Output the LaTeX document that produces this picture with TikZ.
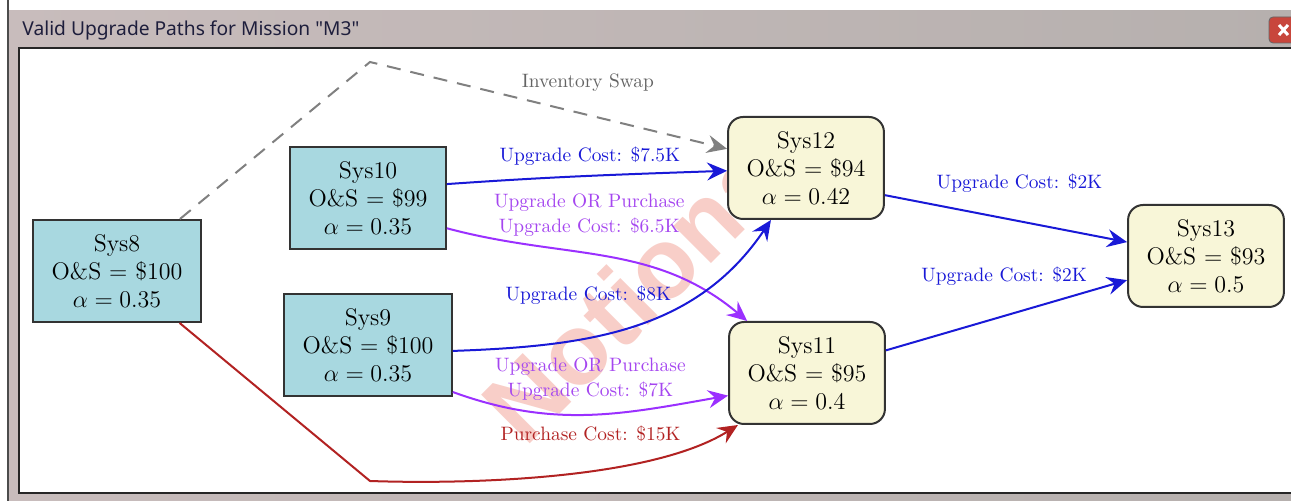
\documentclass[tikz,border=0pt]{standalone}
\usepackage{amssymb, amsmath}
\usepackage{fontspec}
\usepackage{tikz}
\usetikzlibrary{arrows.meta}
\newfontfamily\titlefont{Noto Sans}
\newfontfamily\markfont{Liberation Sans}

\definecolor{costblue}{RGB}{25,25,215}
\definecolor{orpurple}{RGB}{155,48,255}
\definecolor{ortext}{RGB}{165,70,240}
\definecolor{buyred}{RGB}{178,34,34}
\definecolor{swapgray}{RGB}{128,128,128}
\definecolor{swaptext}{RGB}{100,100,100}
\definecolor{basefill}{RGB}{168,216,224}
\definecolor{newfill}{RGB}{248,246,216}
\definecolor{notional}{RGB}{248,206,200}
\definecolor{frameleft}{RGB}{200,188,188}
\definecolor{framemid}{RGB}{214,204,204}
\definecolor{frameright}{RGB}{182,176,174}
\definecolor{titleink}{RGB}{30,30,60}
\definecolor{closered}{RGB}{200,70,60}

\begin{document}
\begin{tikzpicture}[x=0.5pt, y=-0.5pt,
	base node/.style={rectangle, draw=black!80, line width=1pt, fill=basefill, align=center, inner xsep=9.25pt, minimum height=51pt, font=\fontsize{12}{14}\selectfont},
	upgrade node/.style={base node, fill=newfill, rounded corners=7.5pt},
	link/.style={->, >={Stealth[length=10pt, width=9pt, inset=3.5pt]}, line width=1pt},
	upgrade edge/.style={link, draw=costblue, text=costblue},
	or edge/.style={link, draw=orpurple, text=ortext},
	buy edge/.style={link, draw=buyred, text=buyred},
	swap edge/.style={link, draw=swapgray, text=swaptext, dash pattern=on 7pt off 5pt},
	cost label/.style={font=\fontsize{9.7}{12.5}\selectfont, align=center, inner sep=0pt}]

		% window
		\fill[white] (0,0) rectangle (1291,501);
		\useasboundingbox (0,0) rectangle (1291,501);
		\shade[left color=frameleft, middle color=framemid, right color=frameright] (8,11) rectangle (1291,501);
		\fill[white, draw=black!85, line width=1pt] (19,48) rectangle (1300,493);
		\draw[black!70, line width=0.75pt] (8,0) -- (8,501);
		\node[font=\titlefont\fontsize{9.6}{11}\selectfont, text=titleink, anchor=west, inner sep=0pt] (title) at (22,30) {Valid Upgrade Paths for Mission "M3"};
		\draw[fill=closered, draw=black!60, rounded corners=2pt] (1269,17) rectangle (1300,43);
		\draw[white, line width=1.5pt] (1279,25) -- (1288,35) (1279,35) -- (1288,25);

		% watermark
		\node[font=\markfont\bfseries\fontsize{50}{50}\selectfont, text=notional, rotate=45] (stamp) at (642,282) {Notional};

		\node[base node] (8) at (117,271) {Sys8\\O\&S = \$100\\$\alpha = 0.35$};
		\node[base node] (10) at (368,198) {Sys10\\O\&S = \$99\\$\alpha = 0.35$};
		\node[base node] (9) at (368,345) {Sys9\\O\&S = \$100\\$\alpha = 0.35$};
		\node[upgrade node] (12) at (806,168) {Sys12\\O\&S = \$94\\$\alpha = 0.42$};
		\node[upgrade node] (11) at (807,373) {Sys11\\O\&S = \$95\\$\alpha = 0.4$};
		\node[upgrade node] (13) at (1206,256) {Sys13\\O\&S = \$93\\$\alpha = 0.5$};
		\coordinate (swap) at (370,62);
		\coordinate (buy) at (370,481);

		\path[every node/.style={cost label}]
		(10.10)	edge[upgrade edge, out=4, in=182] node[xshift=1.5pt, yshift=9.75pt] {Upgrade Cost: \$7.5K} (12.182)
		(10.-21)	edge[or edge, out=-15, in=140] node[xshift=-8.5pt, yshift=21pt] {Upgrade OR Purchase\\Upgrade Cost: \$6.5K} (11.139)
		(9.-4)	edge[upgrade edge, out=2, in=236] node[pos=.4, xshift=-6.4pt, yshift=20pt] {Upgrade Cost: \$8K} (12.236)
		(9.-29)	edge[or edge, out=-20, in=190] node[xshift=0.9pt, yshift=17.9pt] {Upgrade OR Purchase\\Upgrade Cost: \$7K} (11.196)
		(12.-19)	edge[upgrade edge] node[pos=.55, xshift=0.7pt, yshift=19pt] {Upgrade Cost: \$2K} (13.170)
		(11.16)	edge[upgrade edge] node[pos=.49, yshift=19.9pt] {Upgrade Cost: \$2K} (13.197);

		\draw[swap edge] (8) -- (swap) -- node[cost label, pos=.61, yshift=16.4pt] {Inventory Swap} (12);
		\draw[buy edge] (8) -- (buy) to[out=-2, in=212, looseness=.7] node[cost label, xshift=15.4pt, yshift=20.3pt] {Purchase Cost: \$15K} (11.217);
	\end{tikzpicture}
\end{document}
